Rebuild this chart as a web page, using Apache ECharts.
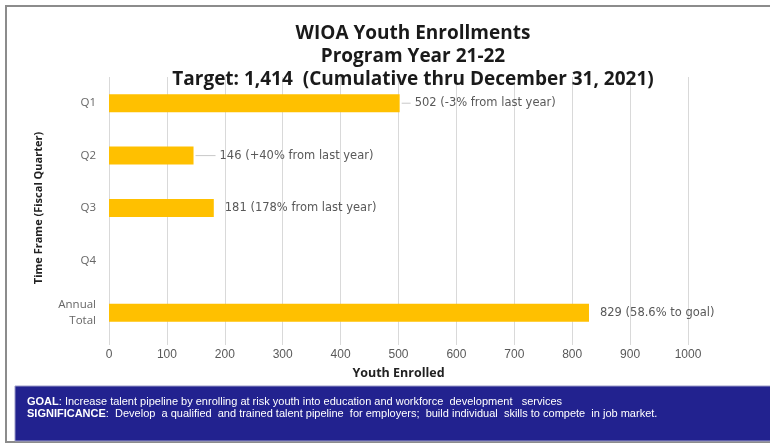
<!DOCTYPE html>
<html>
<head>
<meta charset="utf-8">
<script src="https://cdn.jsdelivr.net/npm/echarts@6/dist/echarts.min.js"></script>
<style>
html,body{margin:0;padding:0;background:#fff;}
#c{width:770px;height:445px;}
</style>
</head>
<body>
<div id="c"></div>
<script>
// ---- data ----
var categories = ['Q1', 'Q2', 'Q3', 'Q4', 'Annual\nTotal'];
var values = [502, 146, 181, null, 829];
var notes = ['(-3% from last year)', '(+40% from last year)', '(178% from last year)', '', '(58.6% to goal)'];
var leaderStyles = ['ln1', 'ln2', 'gap', 'gap', 'gap'];
var xTicks = [0, 100, 200, 300, 400, 500, 600, 700, 800, 900, 1000];
var titleLines = ['WIOA Youth Enrollments', 'Program Year 21-22', 'Target: 1,414  (Cumulative thru December 31, 2021)'];
var goalText = 'Increase talent pipeline by enrolling at risk youth into education and workforce  development   services';
var sigText = 'Develop  a qualified  and trained talent pipeline  for employers;  build individual  skills to compete  in job market.';

var chart = echarts.init(document.getElementById('c'));
var option = {
  backgroundColor: '#fff',
  animation: false,
  title: {
    text: titleLines.join('\n'),
    left: 408,
    textAlign: 'center',
    top: 17,
    textStyle: {fontFamily: 'Open Sans', fontWeight: 'bold', fontSize: 19, lineHeight: 23, color: '#1a1a1a'}
  },
  grid: {left: 109, right: 82, top: 77, bottom: 106, containLabel: false},
  xAxis: {
    type: 'value',
    min: 0, max: 1000, interval: 100,
    name: 'Youth Enrolled',
    nameLocation: 'middle',
    nameGap: 28,
    nameTextStyle: {fontFamily: 'Open Sans', fontWeight: 'bold', fontSize: 12.5, color: '#222'},
    axisLine: {show: false},
    axisTick: {show: true, length: 6, lineStyle: {color: '#d9d9d9'}},
    axisLabel: {fontFamily: 'Liberation Sans', fontSize: 12, color: '#595959', margin: 10,
      formatter: function (v) { return xTicks.indexOf(v) >= 0 ? String(v) : ''; }},
    splitLine: {show: true, lineStyle: {color: '#d9d9d9', width: 1}}
  },
  yAxis: {
    type: 'category',
    inverse: true,
    data: categories,
    name: 'Time Frame (Fiscal Quarter)',
    nameLocation: 'middle',
    nameGap: 65,
    nameRotate: 90,
    nameTextStyle: {fontFamily: 'Open Sans', fontWeight: 'bold', fontSize: 11, color: '#222'},
    axisLine: {show: false},
    axisTick: {show: false},
    axisLabel: {fontFamily: 'Open Sans', fontSize: 11.5, color: '#666', margin: 13, lineHeight: 16, align: 'right'},
    splitLine: {show: false}
  },
  series: [{
    type: 'bar',
    data: values,
    barWidth: 18,
    itemStyle: {color: '#FFC000'},
    label: {
      show: true,
      position: 'right',
      distance: 2,
      formatter: function (p) {
        return '{' + leaderStyles[p.dataIndex] + '|}{t|' + p.value + ' ' + notes[p.dataIndex] + '}';
      },
      rich: {
        ln1: {width: 9, height: 1, backgroundColor: '#c8c8c8'},
        ln2: {width: 20, height: 1, backgroundColor: '#c8c8c8'},
        gap: {width: 5, height: 1},
        t: {fontFamily: 'DejaVu Sans', fontSize: 11.5, color: '#595959', padding: [0, 0, 0, 4]}
      }
    }
  }],
  graphic: [
    {type: 'rect', shape: {x: 6, y: 6, width: 770, height: 436}, style: {fill: 'none', stroke: '#8c8c8c', lineWidth: 2}, z: 100},
    {type: 'rect', shape: {x: 15, y: 386, width: 760, height: 55}, style: {fill: '#22228F', stroke: '#9a9ac8', lineWidth: 1}, z: 101},
    {type: 'text', left: 27, top: 396, z: 102,
      style: {
        text: '{b|GOAL}{n|: ' + goalText + '}\n{b|SIGNIFICANCE}{n|:  ' + sigText + '}',
        rich: {
          b: {fontFamily: 'Liberation Sans', fontSize: 11, fontWeight: 'bold', fill: '#fff', lineHeight: 12},
          n: {fontFamily: 'Liberation Sans', fontSize: 11, fill: '#fff', lineHeight: 12}
        }
      }
    }
  ]
};
chart.setOption(option);
</script>
</body>
</html>
